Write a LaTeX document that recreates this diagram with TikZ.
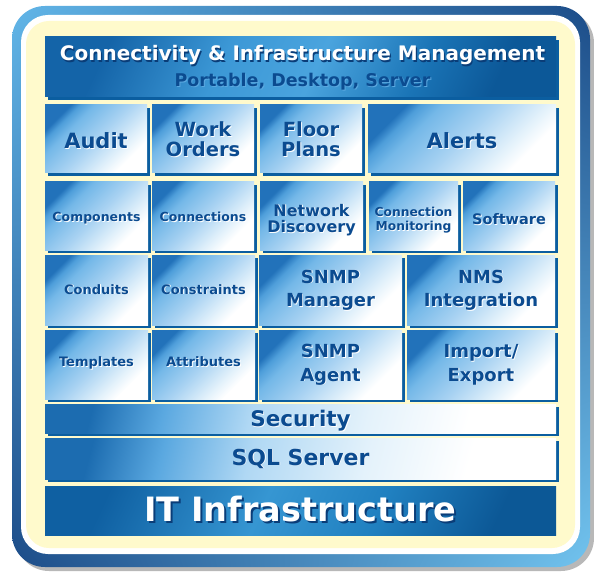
\documentclass[tikz,border=0pt]{standalone}
\usepackage{fontspec}
\setmainfont{DejaVu Sans}
\usetikzlibrary{fit,shadows,shadings}
\definecolor{frameA}{HTML}{62B6E8}
\definecolor{frameB}{HTML}{1C4C88}
\definecolor{frameC}{HTML}{72C4EF}
\definecolor{cream}{HTML}{FFFACC}
\definecolor{shblue}{HTML}{0B5EA0}
\definecolor{txtblue}{HTML}{0B4B90}
\definecolor{navy}{HTML}{0A3D78}
\definecolor{tlA}{HTML}{2272BA}
\definecolor{tlB}{HTML}{4E9EDA}
\definecolor{tlC}{HTML}{74B8E8}
\definecolor{tlD}{HTML}{A8D2F2}
\definecolor{tlE}{HTML}{E4F2FB}
\definecolor{hdA}{HTML}{1464A8}
\definecolor{hdB}{HTML}{3C98D6}
\definecolor{hdC}{HTML}{4AA4DE}
\definecolor{hdD}{HTML}{1A74B6}
\definecolor{hdE}{HTML}{0C5898}
\definecolor{itA}{HTML}{0F60A2}
\definecolor{itB}{HTML}{3696D2}
\definecolor{itC}{HTML}{2080C0}
\definecolor{itD}{HTML}{0C5896}
\definecolor{brA}{HTML}{1C6CB0}
\definecolor{brB}{HTML}{5AA8E0}
\definecolor{brC}{HTML}{B0D8F4}
\definecolor{brD}{HTML}{E4F2FB}
\definecolor{subsh}{HTML}{5AA8E0}
\pgfdeclarehorizontalshading{tileshade}{100bp}{color(0bp)=(tlA); color(25bp)=(tlA); color(29bp)=(tlB); color(35bp)=(tlC); color(50bp)=(tlD); color(65bp)=(tlE); color(72bp)=(white); color(100bp)=(white)}
\pgfdeclarehorizontalshading{hdshade}{100bp}{color(0bp)=(hdA); color(25bp)=(hdA); color(40bp)=(hdB); color(52bp)=(hdC); color(65bp)=(hdD); color(75bp)=(hdE); color(100bp)=(hdE)}
\pgfdeclarehorizontalshading{itshade}{100bp}{color(0bp)=(itA); color(25bp)=(itA); color(45bp)=(itB); color(60bp)=(itC); color(75bp)=(itD); color(100bp)=(itD)}
\pgfdeclarehorizontalshading{barshade}{100bp}{color(0bp)=(brA); color(25bp)=(brA); color(33.5bp)=(brB); color(44bp)=(brC); color(58bp)=(brD); color(70bp)=(white); color(100bp)=(white)}
\tikzset{
  tile/.style={inner sep=0pt, outer sep=0pt, shading=tileshade, shading angle=-45,
    general shadow={fill=shblue, shadow xshift=3pt, shadow yshift=-3pt}},
  bar/.style={inner sep=0pt, outer sep=0pt, shading=barshade, shading angle=-15,
    general shadow={fill=shblue, shadow xshift=3pt, shadow yshift=-3pt}},
  headbox/.style={inner sep=0pt, outer sep=0pt, shading=hdshade, shading angle=-25,
    general shadow={fill=shblue, shadow xshift=3pt, shadow yshift=-3pt}},
  itbox/.style={inner sep=0pt, outer sep=0pt, shading=itshade, shading angle=-25},
  ttext/.style={inner sep=0pt, anchor=base, text=txtblue},
  tshadow/.style={inner sep=0pt, anchor=base, text=white},
}
% #1 box, #2 line id, #3 size, #4 baseline y, #5 text
\newcommand\tline[5]{%
  \coordinate (#1-#2) at (#1.center |- 0,#4);
  \node[tshadow, font=\bfseries\fontsize{#3}{#3}\selectfont] (#1-#2s) at ([shift={(0.9,0.9)}]#1-#2) {#5};
  \node[ttext, font=\bfseries\fontsize{#3}{#3}\selectfont] (#1-#2t) at (#1-#2) {#5};
}
\begin{document}
\begin{tikzpicture}[x=1pt,y=-1pt]
\useasboundingbox (0,0) rectangle (594,572);
% frame
\fill[black!28, rounded corners=33] (16,10) rectangle (594,571);
\shade[upper left=frameA, upper right=frameB, lower left=frameB, lower right=frameC, rounded corners=33] (12,6) rectangle (590,567);
\fill[white, rounded corners=27] (21,15) rectangle (580,554);
\fill[cream, rounded corners=23] (26,21) rectangle (575,548);
% header
\node[headbox, fit={(45,37)(556,97)}] (head) {};
\node[inner sep=0pt, anchor=base, text=navy, font=\bfseries\fontsize{20}{24}\selectfont] (title-s) at (303.7,62.2) {Connectivity \& Infrastructure Management};
\node[inner sep=0pt, anchor=base, text=white, font=\bfseries\fontsize{20}{24}\selectfont] (title) at (302.5,61) {Connectivity \& Infrastructure Management};
\node[inner sep=0pt, anchor=base, text=subsh, font=\bfseries\fontsize{17.5}{20}\selectfont] (sub-s) at (303.5,88) {Portable, Desktop, Server};
\node[inner sep=0pt, anchor=base, text=txtblue, font=\bfseries\fontsize{17.5}{20}\selectfont] (sub) at (302.5,87) {Portable, Desktop, Server};
% row 1
\node[tile, fit={(45,105)(147,173)}] (audit) {};
\node[tile, fit={(152,105)(254,173)}] (work) {};
\node[tile, fit={(260,105)(362,173)}] (floor) {};
\node[tile, fit={(368,105)(556,173)}] (alerts) {};
% row 2
\node[tile, fit={(45,182)(148,250)}] (comp) {};
\node[tile, fit={(152,182)(254,250)}] (conn) {};
\node[tile, fit={(260,182)(363,250)}] (netdisc) {};
\node[tile, fit={(369,182)(458,250)}] (connmon) {};
\node[tile, fit={(463,182)(555,250)}] (soft) {};
% row 3
\node[tile, fit={(45,255)(148,325)}] (conduits) {};
\node[tile, fit={(152,255)(255,325)}] (constr) {};
\node[tile, fit={(259,255)(402,325)}] (snmpman) {};
\node[tile, fit={(407,255)(555,325)}] (nms) {};
% row 4
\node[tile, fit={(45,330)(148,399)}] (templ) {};
\node[tile, fit={(152,330)(255,399)}] (attr) {};
\node[tile, fit={(259,330)(402,399)}] (snmpag) {};
\node[tile, fit={(407,330)(555,399)}] (impexp) {};
% bars
\node[bar, fit={(45,404)(556,433)}] (sec) {};
\node[bar, fit={(45,438)(556,479)}] (sql) {};
\node[itbox, fit={(45,486)(556,535)}] (it) {};
% labels
\tline{audit}{a}{21}{148.5}{Audit}
\tline{work}{a}{19.5}{136.5}{Work}
\tline{work}{b}{19.5}{157}{Orders}
\tline{floor}{a}{19.5}{136.5}{Floor}
\tline{floor}{b}{19.5}{157}{Plans}
\tline{alerts}{a}{21}{148.5}{Alerts}
\tline{comp}{a}{12.5}{221.5}{Components}
\tline{conn}{a}{12.5}{221.5}{Connections}
\tline{netdisc}{a}{16}{216}{Network}
\tline{netdisc}{b}{16}{233}{Discovery}
\tline{connmon}{a}{12.3}{216.7}{Connection}
\tline{connmon}{b}{12.3}{230.7}{Monitoring}
\tline{soft}{a}{14.5}{225}{Software}
\tline{conduits}{a}{13}{294}{Conduits}
\tline{constr}{a}{13}{294}{Constraints}
\tline{snmpman}{a}{18}{283}{SNMP}
\tline{snmpman}{b}{18}{306.5}{Manager}
\tline{nms}{a}{18}{283}{NMS}
\tline{nms}{b}{18}{306.5}{Integration}
\tline{templ}{a}{13}{366.7}{Templates}
\tline{attr}{a}{13}{366.7}{Attributes}
\tline{snmpag}{a}{18}{357.3}{SNMP}
\tline{snmpag}{b}{18}{381}{Agent}
\tline{impexp}{a}{18}{357.3}{Import/}
\tline{impexp}{b}{18}{381}{Export}
\tline{sec}{a}{21.5}{426.5}{Security}
\tline{sql}{a}{22}{465}{SQL Server}
\coordinate (it-a) at (it.center |- 0,521);
\node[inner sep=0pt, anchor=base, text=navy, font=\bfseries\fontsize{33.5}{36}\selectfont] (it-as) at ([shift={(2,2)}]it-a) {IT Infrastructure};
\node[inner sep=0pt, anchor=base, text=white, font=\bfseries\fontsize{33.5}{36}\selectfont] (it-at) at (it-a) {IT Infrastructure};
\end{tikzpicture}
\end{document}
